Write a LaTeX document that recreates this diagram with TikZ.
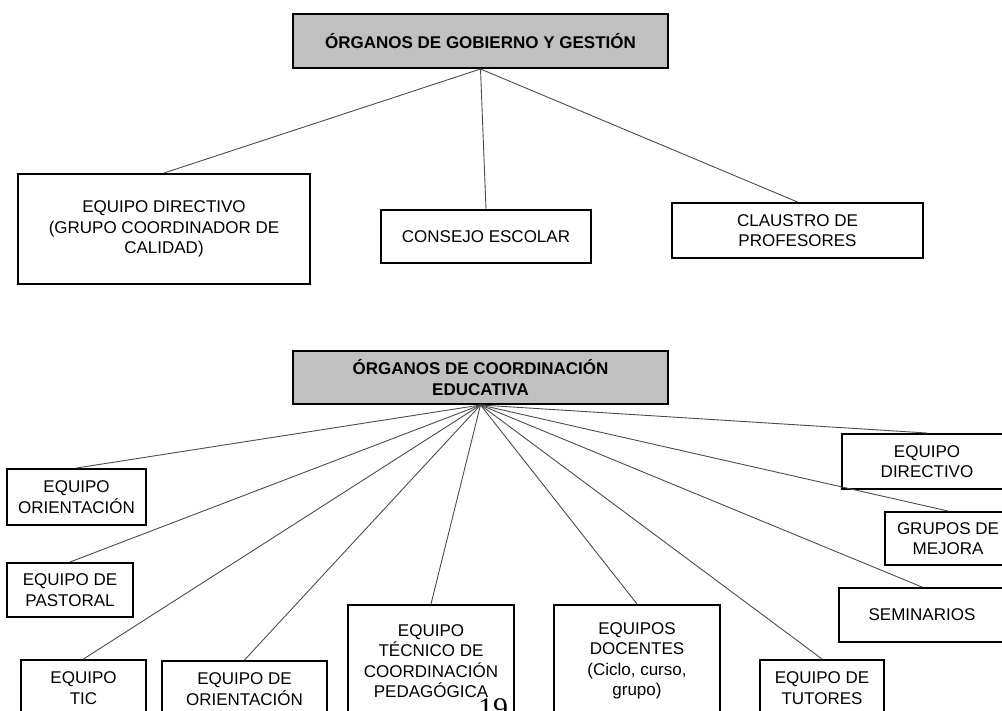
\documentclass[tikz,border=0pt]{standalone}
\usepackage{fontspec}
\setmainfont{Liberation Sans}
\newfontfamily\pagenumfont{Liberation Serif}
\definecolor{boxgray}{RGB}{192,192,192}
\begin{document}
\begin{tikzpicture}[x=1pt,y=-1pt,
  caja/.style={draw=black,line width=2pt,fill=white,align=center,inner sep=2pt,
    font=\fontsize{17}{20.5}\selectfont},
  titulo/.style={caja,fill=boxgray,font=\bfseries\fontsize{17}{20.5}\selectfont},
  rama/.style={draw=black!70,line width=0.9pt}]

  \useasboundingbox (0,0) rectangle (1002,710);
  \clip (0,0) rectangle (1002,710);

  % gobierno y gestion
  \node[titulo,minimum width=375pt,minimum height=54pt] (gob) at (480.5,41) {ÓRGANOS DE GOBIERNO Y GESTIÓN};
  \node[caja,minimum width=292pt,minimum height=110pt] (edir) at (164,229) {EQUIPO DIRECTIVO\\(GRUPO COORDINADOR DE\\CALIDAD)};
  \node[caja,minimum width=210pt,minimum height=53pt] (cons) at (486,236.5) {CONSEJO ESCOLAR};
  \node[caja,minimum width=251pt,minimum height=55pt] (claus) at (797.5,230.5) {CLAUSTRO DE\\PROFESORES};

  \draw[rama] (gob.south) -- (edir.north);
  \draw[rama] (gob.south) -- (cons.north);
  \draw[rama] (gob.south) -- (claus.north);

  % coordinacion educativa
  \node[titulo,minimum width=375pt,minimum height=53pt] (coord) at (480.5,377.5) {ÓRGANOS DE COORDINACIÓN\\EDUCATIVA};

  \node[caja,minimum width=139pt,minimum height=56pt] (eori) at (76.5,497) {EQUIPO\\ORIENTACIÓN};
  \node[caja,minimum width=126pt,minimum height=54pt] (epas) at (70,590) {EQUIPO DE\\PASTORAL};
  \node[caja,anchor=north,minimum width=125pt,minimum height=56pt] (etic) at (83.5,659) {EQUIPO\\TIC};
  \node[caja,anchor=north,minimum width=165pt,minimum height=56pt] (eori2) at (244.5,660) {EQUIPO DE\\ORIENTACIÓN};
  \node[caja,anchor=north,minimum width=166pt,minimum height=112pt] (etec) at (431,604) {EQUIPO\\TÉCNICO DE\\COORDINACIÓN\\PEDAGÓGICA};
  \node[caja,anchor=north,minimum width=166pt,minimum height=112pt] (edoc) at (637,604) {EQUIPOS\\DOCENTES\\(Ciclo, curso,\\grupo)};
  \node[caja,anchor=north,minimum width=124pt,minimum height=56pt] (etut) at (822,659) {EQUIPO DE\\TUTORES};
  \node[caja,minimum width=166pt,minimum height=54pt] (sem) at (922,615) {SEMINARIOS};
  \node[caja,minimum width=126pt,minimum height=53pt] (gmej) at (948,538.5) {GRUPOS DE\\MEJORA};
  \node[caja,minimum width=170pt,minimum height=55pt] (edir2) at (927,461.5) {EQUIPO\\DIRECTIVO};

  \draw[rama] (coord.south) -- (eori.north);
  \draw[rama] (coord.south) -- (epas.north);
  \draw[rama] (coord.south) -- (etic.north);
  \draw[rama] (coord.south) -- (eori2.north);
  \draw[rama] (coord.south) -- (etec.north);
  \draw[rama] (coord.south) -- (edoc.north);
  \draw[rama] (coord.south) -- (etut.north);
  \draw[rama] (coord.south) -- (sem.north);
  \draw[rama] (coord.south) -- (gmej.north);
  \draw[rama] (coord.south) -- (edir2.north);

  \node[font=\pagenumfont\fontsize{30}{30}\selectfont,anchor=base,inner sep=0pt] (pag) at (493,718) {19};

\end{tikzpicture}
\end{document}
